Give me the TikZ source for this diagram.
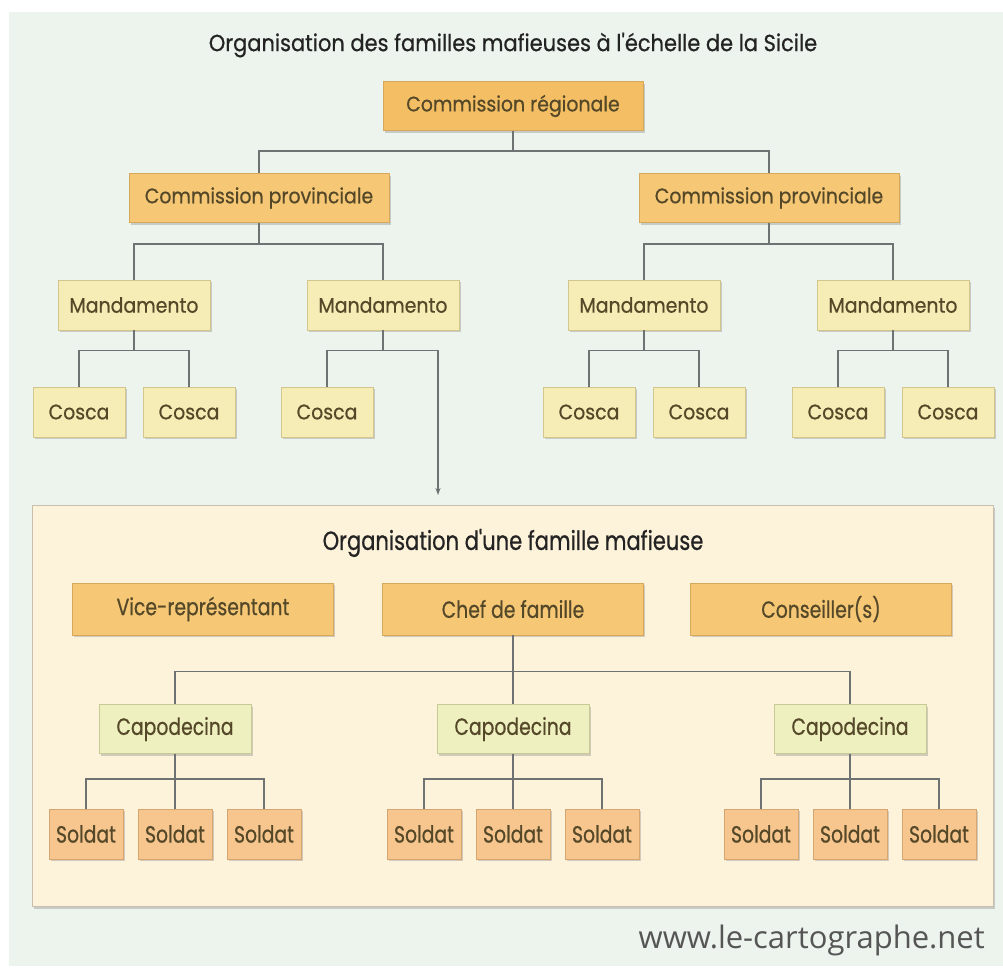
\documentclass[tikz,border=0pt]{standalone}
\usepackage{fontspec}
\setmainfont{Poppins}
\newfontfamily\geofont[FakeStretch=0.9,FakeBold=0.6]{Poppins}
\newfontfamily\narrowfont[FakeStretch=0.8,FakeBold=0.6]{Poppins}
\newfontfamily\webfont{Open Sans}
\usetikzlibrary{shadows,arrows.meta}
\definecolor{bggreen}{RGB}{237,244,237}
\definecolor{regfill}{RGB}{243,190,100}
\definecolor{commfill}{RGB}{246,200,118}
\definecolor{commline}{RGB}{214,168,92}
\definecolor{mandfill}{RGB}{246,236,182}
\definecolor{mandline}{RGB}{210,198,140}
\definecolor{capofill}{RGB}{238,240,192}
\definecolor{capoline}{RGB}{200,202,150}
\definecolor{soldfill}{RGB}{247,198,142}
\definecolor{soldline}{RGB}{214,166,112}
\definecolor{famfill}{RGB}{253,242,218}
\definecolor{famline}{RGB}{200,192,172}
\definecolor{boxtext}{RGB}{84,72,40}
\definecolor{linkgray}{RGB}{110,114,114}
\definecolor{titletext}{RGB}{35,35,35}
\definecolor{webtext}{RGB}{85,85,85}
\tikzset{
	box/.style={rectangle,inner sep=0pt,line width=0.7pt,text=boxtext,
		drop shadow={shadow xshift=1.5pt,shadow yshift=-2pt,opacity=0.35}},
	commbox/.style={box,fill=commfill,draw=commline,minimum width=260pt,minimum height=49pt,
		font=\geofont\fontsize{21}{23}\selectfont},
	mandbox/.style={box,fill=mandfill,draw=mandline,minimum width=152pt,minimum height=50pt,
		font=\geofont\fontsize{21}{23}\selectfont},
	coscabox/.style={mandbox,minimum width=92pt},
	chefbox/.style={box,fill=commfill,draw=commline,minimum width=261pt,minimum height=52pt,
		font=\narrowfont\fontsize{23.5}{25}\selectfont},
	capobox/.style={box,fill=capofill,draw=capoline,minimum width=152pt,minimum height=49pt,
		font=\narrowfont\fontsize{23.5}{25}\selectfont},
	soldbox/.style={box,fill=soldfill,draw=soldline,minimum width=74pt,minimum height=50pt,
		font=\narrowfont\fontsize{23.5}{25}\selectfont},
	heading/.style={text=titletext,inner sep=0pt,font=\geofont\fontsize{23.3}{25}\selectfont},
	link/.style={draw=linkgray,line width=1.4pt}
}
\begin{document}
\begin{tikzpicture}[x=1pt,y=-1pt]
	\useasboundingbox (0,0) rectangle (1003,969);
	\fill[bggreen] (9,12) rectangle (1003,966);
	\node[heading] (sicile) at (513,45) {Organisation des familles mafieuses à l'échelle de la Sicile};
	\node[commbox,fill=regfill] (region) at (513,106) {Commission régionale};
	\node[commbox] (provL) at (259,198) {Commission provinciale};
	\node[commbox] (provR) at (769,198) {Commission provinciale};
	\node[mandbox] (mandLa) at (134,305) {Mandamento};
	\node[mandbox] (mandLb) at (383,305) {Mandamento};
	\node[mandbox] (mandRa) at (644,305) {Mandamento};
	\node[mandbox] (mandRb) at (893,305) {Mandamento};
	\node[coscabox] (coscaLa1) at (79,412) {Cosca};
	\node[coscabox] (coscaLa2) at (189,412) {Cosca};
	\node[coscabox] (coscaLb1) at (327,412) {Cosca};
	\node[coscabox] (coscaRa1) at (589,412) {Cosca};
	\node[coscabox] (coscaRa2) at (699,412) {Cosca};
	\node[coscabox] (coscaRb1) at (838,412) {Cosca};
	\node[coscabox] (coscaRb2) at (948,412) {Cosca};
	\draw[link] (region.south) -- ++(0,20) -| (provL.north);
	\draw[link] (region.south) -- ++(0,20) -| (provR.north);
	\draw[link] (provL.south) -- ++(0,21) -| (mandLa.north);
	\draw[link] (provL.south) -- ++(0,21) -| (mandLb.north);
	\draw[link] (provR.south) -- ++(0,21) -| (mandRa.north);
	\draw[link] (provR.south) -- ++(0,21) -| (mandRb.north);
	\draw[link] (mandLa.south) -- ++(0,20) -| (coscaLa1.north);
	\draw[link] (mandLa.south) -- ++(0,20) -| (coscaLa2.north);
	\draw[link] (mandLb.south) -- ++(0,20) -| (coscaLb1.north);
	\draw[link] (mandRa.south) -- ++(0,20) -| (coscaRa1.north);
	\draw[link] (mandRa.south) -- ++(0,20) -| (coscaRa2.north);
	\draw[link] (mandRb.south) -- ++(0,20) -| (coscaRb1.north);
	\draw[link] (mandRb.south) -- ++(0,20) -| (coscaRb2.north);
	\coordinate (famtip) at (438,495);
	\draw[link,-{Stealth[length=7pt,width=5pt]}] (mandLb.south) -- ++(0,20) -| (famtip);
	\draw[fill=famfill,draw=famline,line width=1pt,
		drop shadow={shadow xshift=1.5pt,shadow yshift=-2.5pt,opacity=0.35}] (32,505) rectangle (993,906);
	\node[heading,font=\narrowfont\fontsize{26.3}{28}\selectfont] (famille) at (513,543) {Organisation d'une famille mafieuse};
	\node[chefbox] (vice) at (203,609) {Vice-représentant};
	\node[chefbox] (chef) at (513,609) {Chef de famille};
	\node[chefbox] (cons) at (821,609) {Conseiller(s)};
	\node[capobox] (capoL) at (175,729) {Capodecina};
	\node[capobox] (capoM) at (513,729) {Capodecina};
	\node[capobox] (capoR) at (850,729) {Capodecina};
	\node[soldbox] (soldL1) at (86,834) {Soldat};
	\node[soldbox] (soldL2) at (175,834) {Soldat};
	\node[soldbox] (soldL3) at (264,834) {Soldat};
	\node[soldbox] (soldM1) at (424,834) {Soldat};
	\node[soldbox] (soldM2) at (513,834) {Soldat};
	\node[soldbox] (soldM3) at (602,834) {Soldat};
	\node[soldbox] (soldR1) at (761,834) {Soldat};
	\node[soldbox] (soldR2) at (850,834) {Soldat};
	\node[soldbox] (soldR3) at (939,834) {Soldat};
	\draw[link] (chef.south) -- ++(0,36) -| (capoL.north);
	\draw[link] (chef.south) -- (capoM.north);
	\draw[link] (chef.south) -- ++(0,36) -| (capoR.north);
	\draw[link] (capoL.south) -- ++(0,25) -| (soldL1.north);
	\draw[link] (capoL.south) -- (soldL2.north);
	\draw[link] (capoL.south) -- ++(0,25) -| (soldL3.north);
	\draw[link] (capoM.south) -- ++(0,25) -| (soldM1.north);
	\draw[link] (capoM.south) -- (soldM2.north);
	\draw[link] (capoM.south) -- ++(0,25) -| (soldM3.north);
	\draw[link] (capoR.south) -- ++(0,25) -| (soldR1.north);
	\draw[link] (capoR.south) -- (soldR2.north);
	\draw[link] (capoR.south) -- ++(0,25) -| (soldR3.north);
	\node[text=webtext,inner sep=0pt,anchor=east,font=\webfont\fontsize{31}{33}\selectfont] (site) at (985,940) {www.le-cartographe.net};
\end{tikzpicture}
\end{document}
